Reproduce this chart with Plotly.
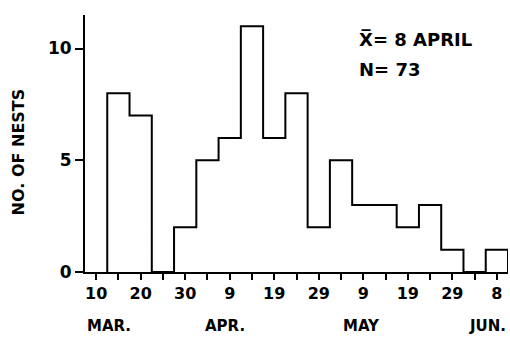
import plotly.graph_objects as go

# Day numbers counted so that 10 March = 10, 9 April = 40, 8 June = 100
bin_center_day = [15, 20, 25, 30, 35, 40, 45, 50, 55, 60, 65, 70, 75, 80, 85, 90, 95, 100]
nest_counts = [8, 7, 0, 2, 5, 6, 11, 6, 8, 2, 5, 3, 3, 2, 3, 1, 0, 1]
bin_width = 5

x_tick_days = [10, 15, 20, 25, 30, 35, 40, 45, 50, 55, 60, 65, 70, 75, 80, 85, 90, 95, 100]
x_tick_labels = ["10", "", "20", "", "30", "", "9", "", "19", "", "29", "", "9", "", "19", "", "29", "", "8"]
month_names = ["MAR.", "APR.", "MAY", "JUN."]
month_label_days = [12.9, 39, 69.5, 98]

y_ticks = [0, 5, 10]
mean_text = "X\u0305= 8 APRIL"
n_text = "N= 73"

half = bin_width / 2
lefts = [c - half for c in bin_center_day]
right_end = bin_center_day[-1] + half
xs = [lefts[0]] + lefts + [right_end, right_end]
ys = [0] + nest_counts + [nest_counts[-1], 0]

FONT = "DejaVu Sans"

fig = go.Figure()
fig.add_trace(go.Scatter(
    x=xs, y=ys, mode="lines", line=dict(shape="hv", color="black", width=2),
    cliponaxis=False, showlegend=False, hoverinfo="skip"))

fig.update_layout(
    width=510, height=341,
    margin=dict(l=85, r=2, t=15, b=69),
    paper_bgcolor="white", plot_bgcolor="white",
    font=dict(family=FONT, color="black", size=16),
    xaxis=dict(range=[7.5, 102.5], showgrid=False, zeroline=False,
               showline=True, linecolor="black", linewidth=2,
               ticks="outside", ticklen=6, tickwidth=2, tickcolor="black",
               tickvals=x_tick_days,
               ticktext=["<b>%s</b>" % t if t else "" for t in x_tick_labels],
               tickfont=dict(family=FONT, size=16, color="black"),
               tickangle=0),
    yaxis=dict(range=[0, 11.5], showgrid=False, zeroline=False,
               showline=True, linecolor="black", linewidth=2,
               ticks="outside", ticklen=8, tickwidth=2, tickcolor="black",
               tickvals=y_ticks, ticktext=["<b>%d</b>" % v for v in y_ticks],
               tickfont=dict(family=FONT, size=17, color="black")),
)

annotations = []
for name, d in zip(month_names, month_label_days):
    annotations.append(dict(x=d, xref="x", y=-0.21, yref="paper", text="<b>%s</b>" % name,
                            showarrow=False, xanchor="center", yanchor="middle",
                            font=dict(family=FONT, size=15, color="black")))
annotations.append(dict(x=-0.158, xref="paper", y=0.466, yref="paper", text="<b>NO. OF NESTS</b>",
                        textangle=-90, showarrow=False, xanchor="center", yanchor="middle",
                        font=dict(family=FONT, size=16, color="black")))
annotations.append(dict(x=0.643, xref="paper", y=0.905, yref="paper", text="<b>%s</b>" % mean_text,
                        showarrow=False, xanchor="left", yanchor="middle",
                        font=dict(family=FONT, size=18, color="black")))
annotations.append(dict(x=0.643, xref="paper", y=0.786, yref="paper", text="<b>%s</b>" % n_text,
                        showarrow=False, xanchor="left", yanchor="middle",
                        font=dict(family=FONT, size=18, color="black")))
fig.update_layout(annotations=annotations)

fig.write_html("out.html", config={"displayModeBar": False},
               post_script="document.body.style.margin='0';document.body.style.padding='0';")
